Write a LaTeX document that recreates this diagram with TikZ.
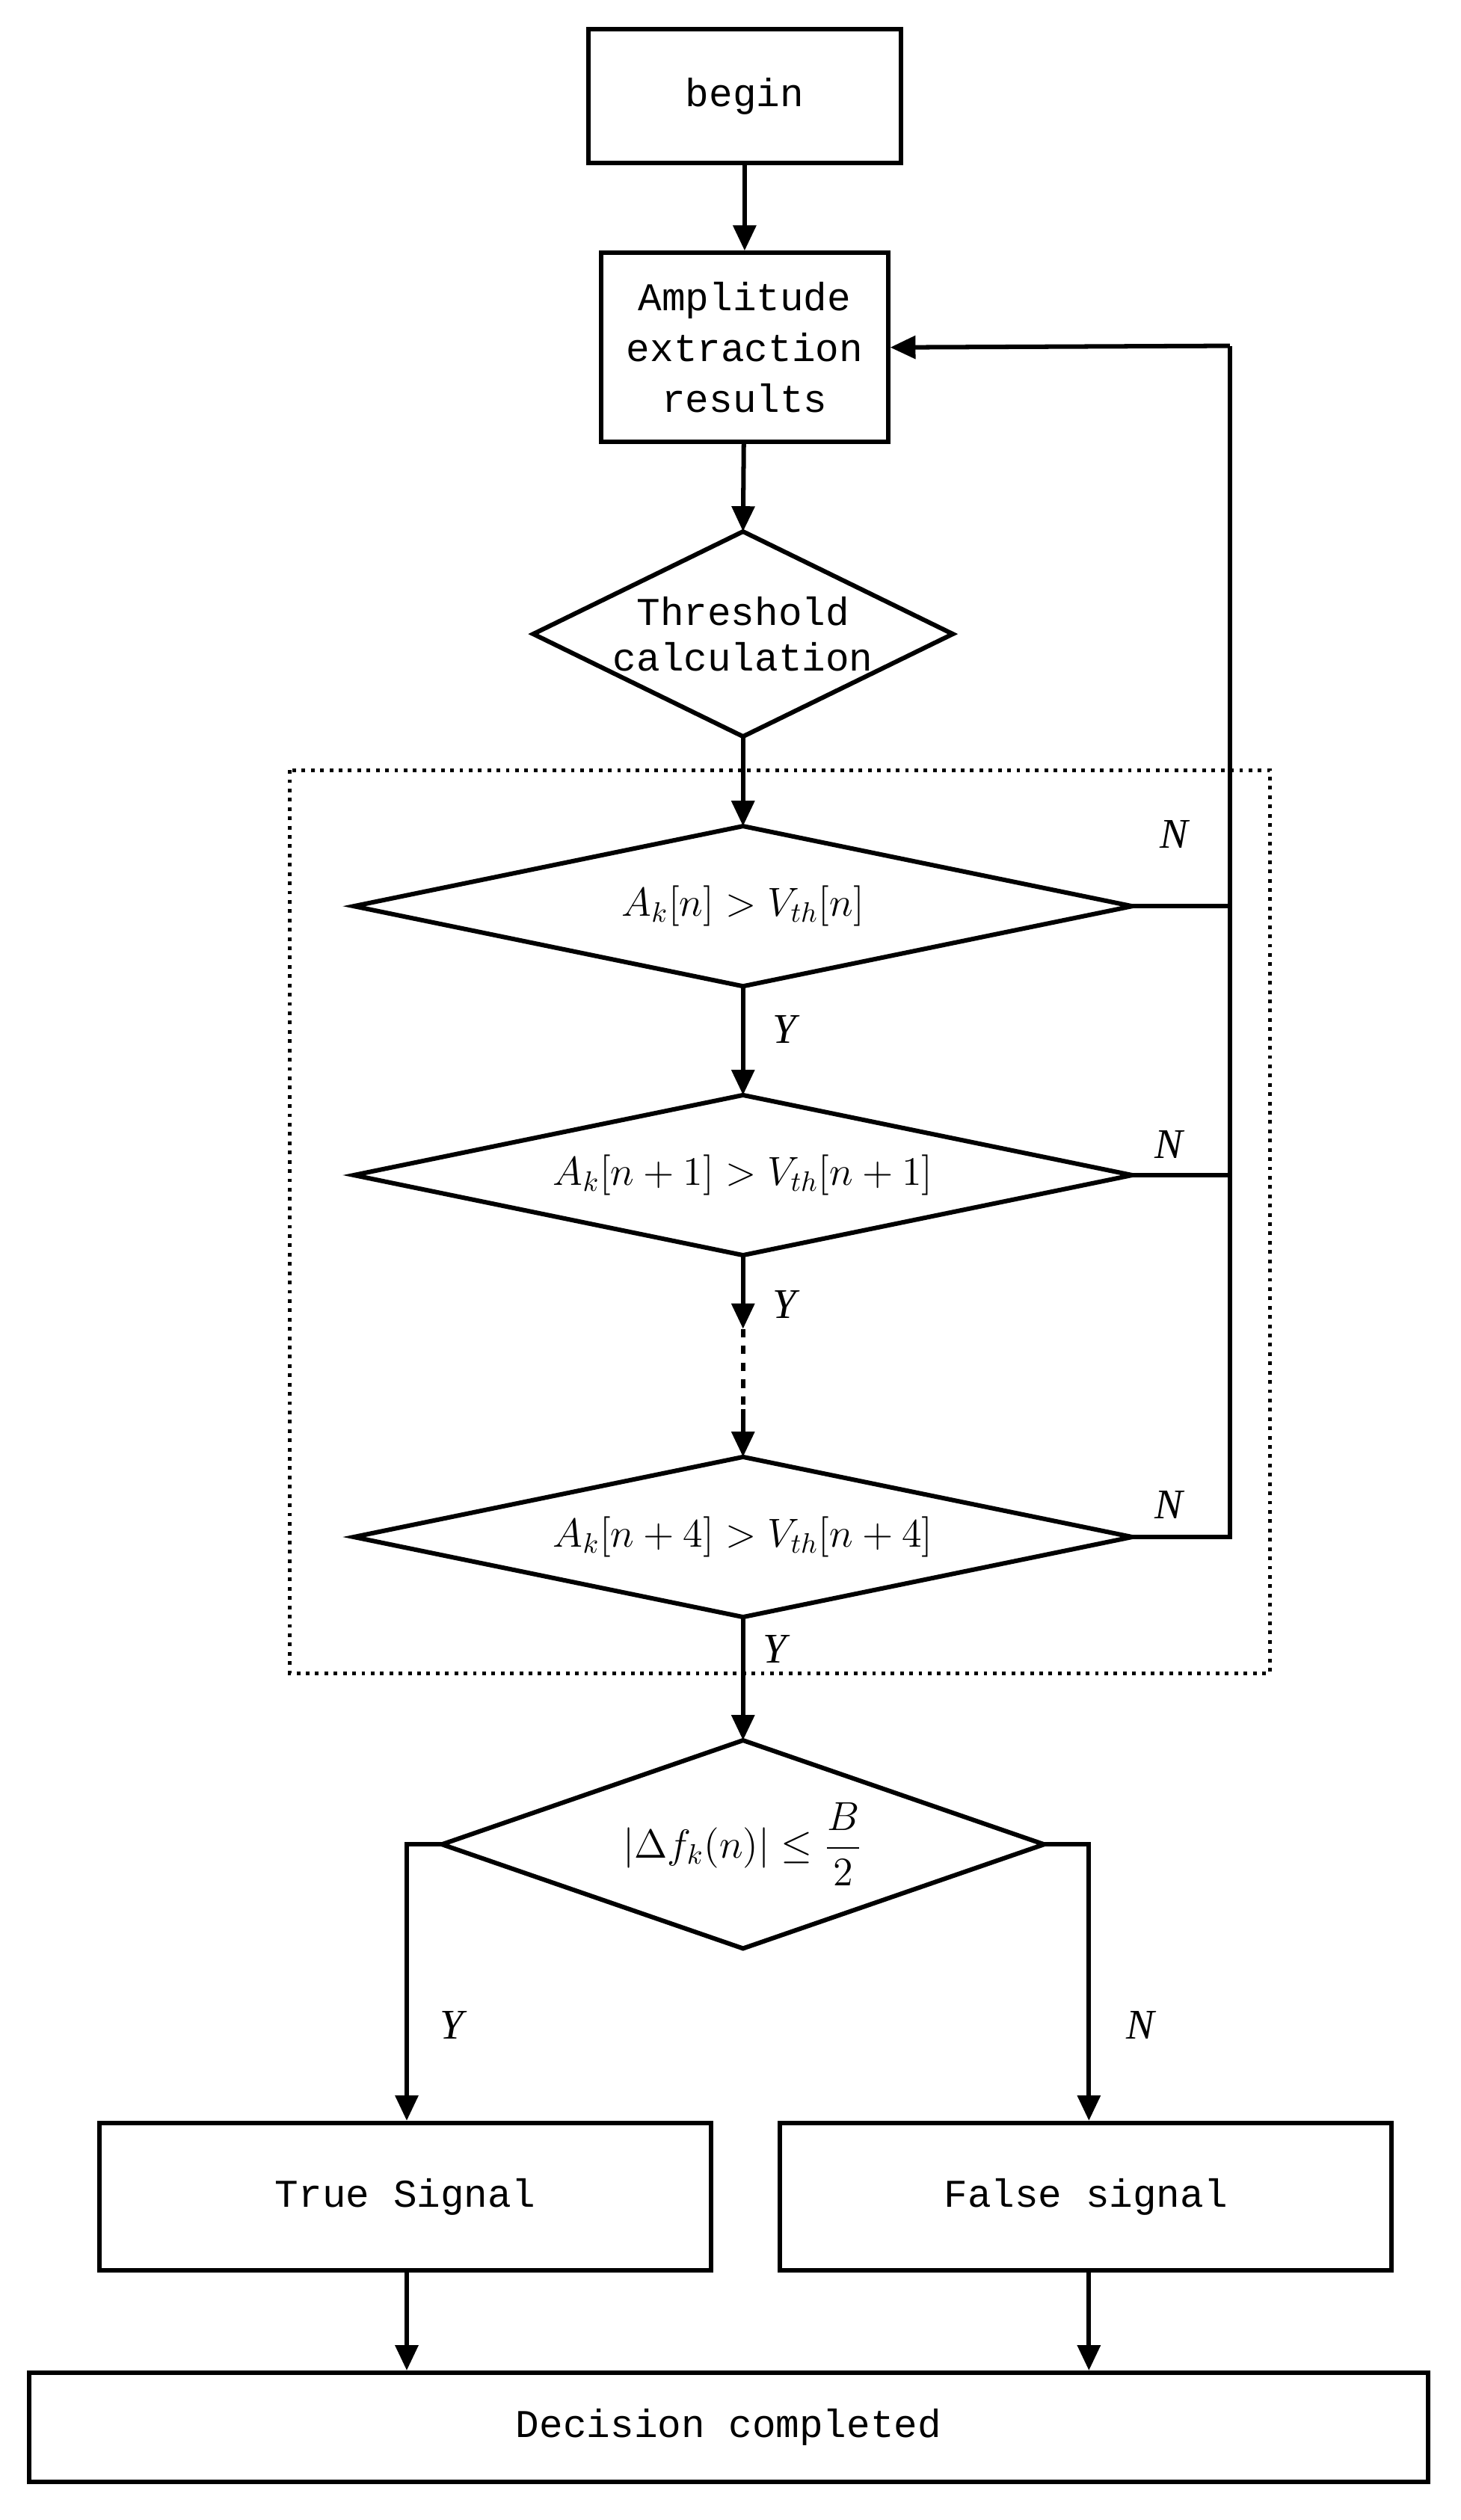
\documentclass[tikz,border=0pt]{standalone}
\usepackage{amsmath}
\usepackage{fontspec}
\setmainfont{Liberation Serif}
\newfontfamily\mono{Liberation Mono}
\usetikzlibrary{shapes.geometric,arrows.meta}
\newcommand{\mydia}[5]{% name, cx, cy, halfw, halfh
  \coordinate (#1n) at (#2,#3-#5);
  \coordinate (#1s) at (#2,#3+#5);
  \coordinate (#1e) at (#2+#4,#3);
  \coordinate (#1w) at (#2-#4,#3);
  \draw (#1n) -- (#1e) -- (#1s) -- (#1w) -- cycle;}
\begin{document}
\begin{tikzpicture}[x=0.02cm,y=-0.02cm,line width=1.6pt,
  box/.style={draw,rectangle,font=\mono\fontsize{14}{18}\selectfont,align=center,inner sep=0},
  txt/.style={font=\fontsize{14}{18}\selectfont,inner sep=0},
  arr/.style={-{Triangle[length=9pt,width=8pt]}},
  lab/.style={font=\itshape\fontsize{15}{18}\selectfont}]
\useasboundingbox (0,0) rectangle (912,1574);
\node[box,minimum width=195*0.02cm,minimum height=84*0.02cm] (begin) at (465,60) {begin};
\node[box,minimum width=179*0.02cm,minimum height=118*0.02cm] (amp) at (465,217) {Amplitude\\extraction\\results};
\mydia{thr}{464}{396}{131}{64}
\node[txt,font=\mono\fontsize{14}{16}\selectfont,align=center] (thrt) at (464,396) {Threshold\\calculation};
\draw[dotted,line width=1.3pt] (181,481) rectangle (793,1045);
\mydia{da}{464}{566}{243}{50}
\node[txt] (dat) at (464,566) {$A_k[n]>V_{th}[n]$};
\mydia{db}{464}{734}{243}{50}
\node[txt] (dbt) at (464,734) {$A_k[n+1]>V_{th}[n+1]$};
\mydia{dc}{464}{960}{243}{50}
\node[txt] (dct) at (464,960) {$A_k[n+4]>V_{th}[n+4]$};
\mydia{dd}{464}{1152}{188}{65}
\node[txt] (ddt) at (464,1152) {$\left|\Delta f_k(n)\right|\le\dfrac{B}{2}$};
\node[box,minimum width=382*0.02cm,minimum height=92*0.02cm] (true) at (253,1372) {True Signal};
\node[box,minimum width=382*0.02cm,minimum height=92*0.02cm] (false) at (678,1372) {False signal};
\node[box,minimum width=874*0.02cm,minimum height=68*0.02cm] (dec) at (455,1516) {Decision completed};
\coordinate (fb) at (768,216);
\coordinate (m1) at (464,830);
\coordinate (m2) at (464,880);
\coordinate (tl) at (254,1152);
\coordinate (tr) at (680,1152);
\draw[arr] (begin) -- (amp);
\draw[arr] (amp) -- (thrn);
\draw[arr] (thrs) -- (dan);
\draw[arr] (das) -- (dbn);
\draw[arr] (dbs) -- (m1);
\draw[dashed] (m1) -- (m2);
\draw[arr] (m2) -- (dcn);
\draw[arr] (dcs) -- (ddn);
\draw (dae) -- (768,566);
\draw (dbe) -- (768,734);
\draw (dce) -- (768,960) -- (fb);
\draw[arr] (fb) -- (amp.east);
\draw[arr] (ddw) -- (tl) -- (true.north -| tl);
\draw[arr] (dde) -- (tr) -- (false.north -| tr);
\draw[arr] (true.south -| tl) -- (dec.north -| tl);
\draw[arr] (false.south -| tr) -- (dec.north -| tr);
\node[lab] (n1) at (733,521) {N};
\node[lab] (n2) at (730,715) {N};
\node[lab] (n3) at (730,940) {N};
\node[lab] (y1) at (490,643) {Y};
\node[lab] (y2) at (490,815) {Y};
\node[lab] (y3) at (484,1030) {Y};
\node[lab] (y4) at (282,1265) {Y};
\node[lab] (n4) at (712,1265) {N};
\end{tikzpicture}
\end{document}
